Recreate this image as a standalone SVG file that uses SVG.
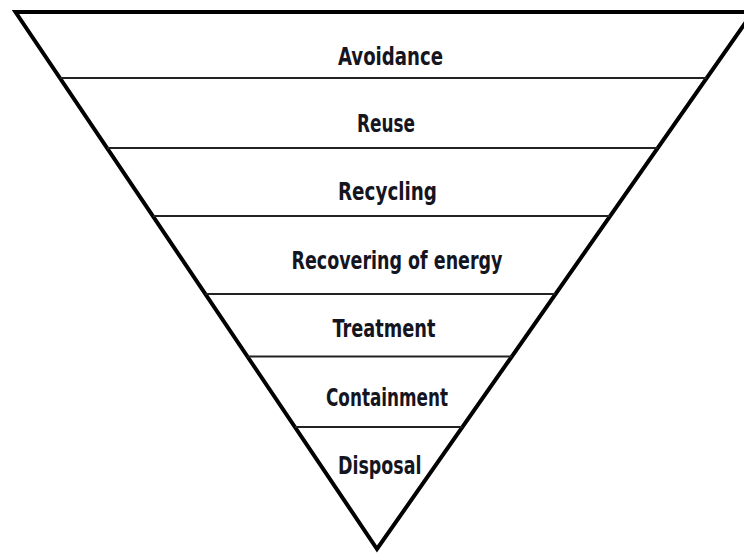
<svg xmlns="http://www.w3.org/2000/svg" width="744" height="556" viewBox="0 0 744 556">
<style>
.lbl{font-family:'DejaVu Sans Condensed','DejaVu Sans',sans-serif;font-weight:bold;font-size:25px;fill:#15151f}
.sep{stroke:#222;stroke-width:2;fill:none}
.outline{stroke:#000;stroke-width:4;fill:none;stroke-linejoin:miter}
</style>
<rect width="744" height="556" fill="#fff"/>
<g id="pyramid">
<polygon class="outline" points="15.5,12 753,12 377,549"/>
</g>
<g id="separators">
<line class="sep" x1="60" y1="78" x2="706.7" y2="78"/>
<line class="sep" x1="107.1" y1="148" x2="657.7" y2="148"/>
<line class="sep" x1="152.9" y1="216" x2="610.1" y2="216"/>
<line class="sep" x1="205.4" y1="294" x2="555.5" y2="294"/>
<line class="sep" x1="247.4" y1="356.5" x2="511.8" y2="356.5"/>
<line class="sep" x1="294.9" y1="427" x2="462.4" y2="427"/>
</g>
<g id="avoidance"><text class="lbl" x="338" y="65" textLength="105" lengthAdjust="spacingAndGlyphs">Avoidance</text></g>
<g id="reuse"><text class="lbl" x="357" y="132" textLength="58" lengthAdjust="spacingAndGlyphs">Reuse</text></g>
<g id="recycling"><text class="lbl" x="338" y="199.5" textLength="99" lengthAdjust="spacingAndGlyphs">Recycling</text></g>
<g id="recovering"><text class="lbl" x="291.5" y="269" textLength="211" lengthAdjust="spacingAndGlyphs">Recovering of energy</text></g>
<g id="treatment"><text class="lbl" x="332.5" y="336.7" textLength="103" lengthAdjust="spacingAndGlyphs">Treatment</text></g>
<g id="containment"><text class="lbl" x="326" y="405.7" textLength="122" lengthAdjust="spacingAndGlyphs">Containment</text></g>
<g id="disposal"><text class="lbl" x="338" y="474" textLength="83.5" lengthAdjust="spacingAndGlyphs">Disposal</text></g>
</svg>
